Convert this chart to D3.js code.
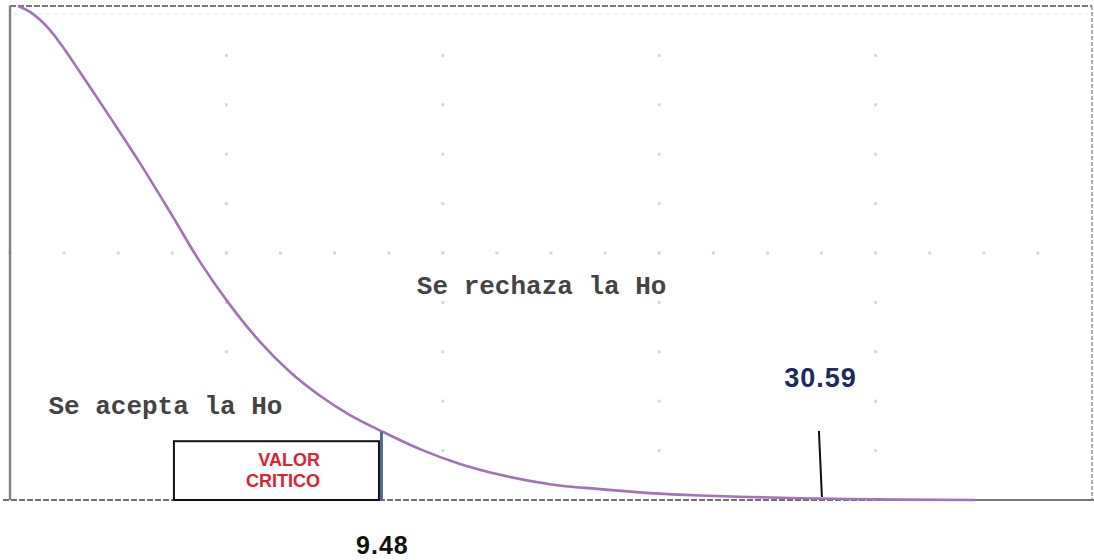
<!DOCTYPE html>
<html>
<head>
<meta charset="utf-8">
<script src="https://cdn.jsdelivr.net/npm/d3@7"></script>
<style>
  html, body { margin: 0; padding: 0; background: #ffffff; }
  svg { display: block; }
</style>
</head>
<body>
<svg id="chart" width="1094" height="560"></svg>
<script>
// ---- data (schematic units: x = 0..100 across the plot, y = relative density 0..1) ----
const curveX = [0.74, 1.85, 2.77, 3.70, 4.62, 6.47, 9.24, 12.01, 14.79, 17.56, 20.33, 23.11, 25.88, 28.65, 31.42, 34.47, 37.89, 41.59, 45.29, 49.91, 54.53, 59.15, 63.77, 68.39, 73.01, 77.63, 82.26, 89.19];
const curveY = [1.000, 0.988, 0.972, 0.951, 0.925, 0.866, 0.775, 0.682, 0.583, 0.482, 0.395, 0.320, 0.259, 0.211, 0.172, 0.138, 0.103, 0.073, 0.051, 0.032, 0.022, 0.014, 0.0091, 0.0061, 0.0036, 0.0020, 0.0008, 0.000];

const criticalLabels = ["9.48", "30.59"];
const criticalPos = [34.33, 74.9];
const criticalTop = [0.138, 0.140];

const regionLabels = ["Se acepta la Ho", "Se rechaza la Ho"];
const regionPosX = [3.55, 37.6];
const regionPosY = [0.174, 0.417];

const boxLines = ["VALOR", "CRITICO"];

// ---- layout ----
const W = 1094, H = 560;
const mLeft = 10, mRight = 1092, mTop = 6, mBottom = 500;

const svg = d3.select("#chart");
svg.append("rect").attr("width", W).attr("height", H).attr("fill", "#fff");

const x = d3.scaleLinear().domain([0, 100]).range([mLeft, mRight]);
const y = d3.scaleLinear().domain([0, 1]).range([mBottom, mTop]);

// ---- faint grid dots ----
const gDots = svg.append("g").attr("fill", "#d8d8d8");
d3.range(0, 100, 5).forEach(u => {
  gDots.append("rect").attr("x", x(u) - 1.5).attr("y", y(0.5) - 1.5).attr("width", 3).attr("height", 3);
});
[20, 40, 60, 80].forEach(u => {
  d3.range(0.1, 0.95, 0.1).forEach(v => {
    gDots.append("rect").attr("x", x(u) - 1.5).attr("y", y(v) - 1.5).attr("width", 3).attr("height", 3);
  });
});
svg.append("line")
  .attr("x1", mLeft + 4).attr("x2", mRight - 4)
  .attr("y1", mTop + 8).attr("y2", mTop + 8)
  .attr("stroke", "#ececec").attr("stroke-width", 1.5)
  .attr("stroke-dasharray", "3,5");

// ---- frame ----
svg.append("line")
  .attr("x1", mLeft).attr("x2", mRight).attr("y1", mTop).attr("y2", mTop)
  .attr("stroke", "#7a7a7a").attr("stroke-width", 2.2).attr("stroke-dasharray", "6,2");
svg.append("line")
  .attr("x1", mRight).attr("x2", mRight).attr("y1", mTop).attr("y2", mBottom)
  .attr("stroke", "#9a9a9a").attr("stroke-width", 1.5).attr("stroke-dasharray", "4,2");
svg.append("line")
  .attr("x1", mLeft).attr("x2", mLeft).attr("y1", mTop).attr("y2", mBottom)
  .attr("stroke", "#808080").attr("stroke-width", 2.4);
svg.append("line")
  .attr("x1", 3).attr("x2", x(89.19)).attr("y1", mBottom).attr("y2", mBottom)
  .attr("stroke", "#707070").attr("stroke-width", 2.2).attr("stroke-dasharray", "6,2");
svg.append("line")
  .attr("x1", x(89.19)).attr("x2", W).attr("y1", mBottom).attr("y2", mBottom)
  .attr("stroke", "#777").attr("stroke-width", 2);

// ---- density curve ----
const pts = curveX.map((d, i) => [d, curveY[i]]);
const line = d3.line().x(d => x(d[0])).y(d => y(d[1])).curve(d3.curveMonotoneX);
svg.append("path")
  .datum(pts)
  .attr("d", line)
  .attr("fill", "none")
  .attr("stroke", "#a274b3")
  .attr("stroke-width", 2.6)
  .attr("stroke-linejoin", "round");

// ---- critical value box ----
svg.append("rect")
  .attr("x", x(15.15)).attr("y", y(0.119))
  .attr("width", x(34.1) - x(15.15)).attr("height", y(0) - y(0.119))
  .attr("fill", "#fff").attr("stroke", "#111").attr("stroke-width", 2);
svg.selectAll("text.box").data(boxLines).enter().append("text")
  .attr("class", "box")
  .attr("x", x(28.65))
  .attr("y", (d, i) => y(0.068) + i * 21)
  .attr("text-anchor", "end")
  .attr("font-family", "Liberation Sans, Arial, sans-serif")
  .attr("font-weight", "bold")
  .attr("font-size", 18)
  .attr("fill", "#e3202b")
  .text(d => d);

// ---- critical markers ----
svg.append("line")
  .attr("x1", x(criticalPos[0])).attr("x2", x(criticalPos[0]))
  .attr("y1", y(criticalTop[0])).attr("y2", y(0))
  .attr("stroke", "#4d6c9c").attr("stroke-width", 3);
svg.append("line")
  .attr("x1", x(criticalPos[1]) - 1.5).attr("x2", x(criticalPos[1]) + 1.5)
  .attr("y1", y(criticalTop[1])).attr("y2", y(0.006))
  .attr("stroke", "#111").attr("stroke-width", 2);

svg.append("text")
  .attr("x", x(criticalPos[0]) + 1).attr("y", 554)
  .attr("text-anchor", "middle")
  .attr("font-family", "Liberation Sans, Arial, sans-serif")
  .attr("font-weight", "bold").attr("font-size", 25)
  .attr("letter-spacing", 1)
  .attr("fill", "#111")
  .text(criticalLabels[0]);
svg.append("text")
  .attr("x", x(criticalPos[1])).attr("y", 387)
  .attr("text-anchor", "middle")
  .attr("font-family", "Liberation Sans, Arial, sans-serif")
  .attr("font-weight", "bold").attr("font-size", 27)
  .attr("letter-spacing", 1)
  .attr("fill", "#1c2a5e")
  .text(criticalLabels[1]);

// ---- region labels ----
svg.selectAll("text.region").data(regionLabels).enter().append("text")
  .attr("class", "region")
  .attr("x", (d, i) => x(regionPosX[i]))
  .attr("y", (d, i) => y(regionPosY[i]))
  .attr("font-family", "Liberation Mono, Courier New, monospace")
  .attr("font-weight", "bold")
  .attr("font-size", 26)
  .attr("fill", "#444")
  .text(d => d);
</script>
</body>
</html>
